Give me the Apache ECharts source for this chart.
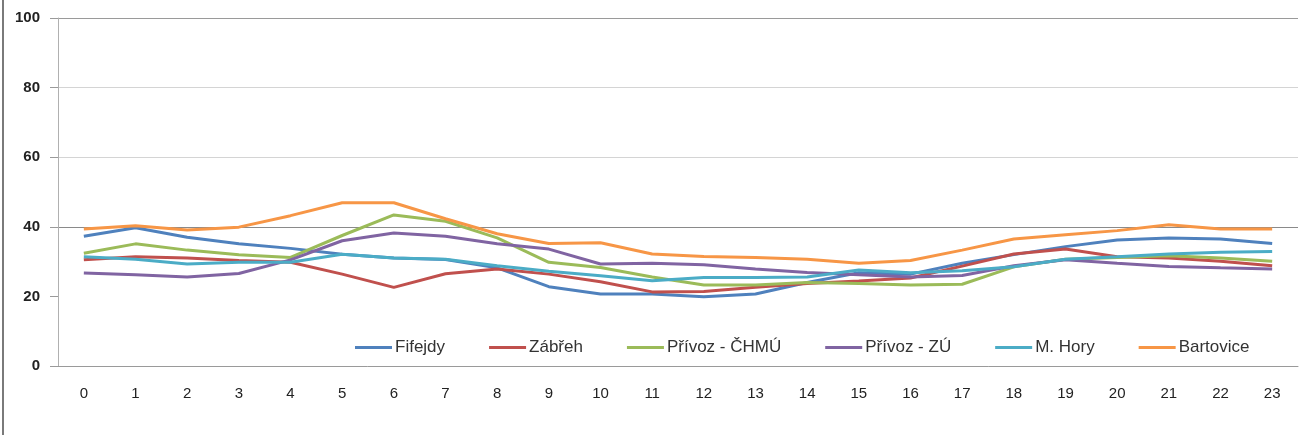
<!DOCTYPE html>
<html>
<head>
<meta charset="utf-8">
<script src="https://cdn.jsdelivr.net/npm/echarts@6/dist/echarts.min.js"></script>
<style>
  html, body { margin: 0; padding: 0; background: #ffffff; }
  #chart { width: 1301px; height: 435px; }
</style>
</head>
<body>
<div id="chart"></div>
<script>
// Hours of the day
const hours = ['0','1','2','3','4','5','6','7','8','9','10','11','12','13','14','15','16','17','18','19','20','21','22','23'];

// Hourly averages per monitoring station
const fifejdy   = [37.3, 39.7, 37.0, 35.1, 33.8, 32.1, 31.0, 30.6, 28.2, 22.8, 20.7, 20.7, 19.9, 20.7, 24.0, 26.8, 26.4, 29.5, 32.0, 34.3, 36.2, 36.8, 36.5, 35.2];
const zabreh    = [30.5, 31.4, 31.0, 30.3, 29.8, 26.4, 22.6, 26.5, 27.9, 26.4, 24.2, 21.3, 21.4, 22.6, 23.7, 24.4, 25.3, 28.7, 32.2, 33.6, 31.4, 31.0, 30.1, 28.8];
const privozChmu = [32.4, 35.1, 33.3, 32.0, 31.2, 37.5, 43.4, 41.6, 36.8, 29.8, 28.3, 25.6, 23.3, 23.3, 24.0, 23.7, 23.3, 23.5, 28.5, 30.7, 31.2, 31.7, 31.0, 30.1];
const privozZu  = [26.7, 26.2, 25.6, 26.6, 30.5, 36.0, 38.2, 37.3, 35.1, 33.6, 29.3, 29.5, 29.1, 27.9, 26.9, 26.2, 25.6, 26.0, 28.8, 30.5, 29.5, 28.6, 28.2, 27.9];
const mHory     = [31.4, 30.7, 29.3, 29.8, 29.8, 32.1, 31.0, 30.7, 28.8, 27.2, 25.9, 24.5, 25.4, 25.4, 25.6, 27.6, 26.8, 27.4, 28.5, 30.7, 31.4, 32.2, 32.7, 32.9];
const bartovice = [39.4, 40.3, 39.1, 39.9, 43.2, 46.9, 46.9, 42.3, 38.0, 35.2, 35.4, 32.2, 31.5, 31.2, 30.7, 29.5, 30.3, 33.3, 36.5, 37.7, 38.9, 40.6, 39.4, 39.4];

const stationNames = ['Fifejdy', 'Zábřeh', 'Přívoz - ČHMÚ', 'Přívoz - ZÚ', 'M. Hory', 'Bartovice'];
const stationData = [fifejdy, zabreh, privozChmu, privozZu, mHory, bartovice];
const stationColors = ['#4F81BD', '#C0504D', '#9BBB59', '#8064A2', '#4BACC6', '#F79646'];

const yTicks = { min: 0, max: 100, interval: 20 };

const font = 'Liberation Sans, Arial, sans-serif';

const chart = echarts.init(document.getElementById('chart'), null, { renderer: 'canvas' });

chart.setOption({
  backgroundColor: '#ffffff',
  animation: false,
  grid: { left: 58, right: 3, top: 18, bottom: 69 },
  legend: {
    data: stationNames,
    left: 355,
    top: 339,
    padding: 0,
    icon: 'rect',
    itemWidth: 37,
    itemHeight: 3,
    itemGap: 44,
    textStyle: { fontFamily: font, fontSize: 17, color: '#333333', padding: [0, 0, 0, -2] }
  },
  xAxis: {
    type: 'category',
    data: hours,
    boundaryGap: true,
    axisLine: { show: true, lineStyle: { color: '#9a9a9a', width: 1 } },
    axisTick: { show: false },
    axisLabel: { fontFamily: font, fontSize: 15, color: '#222222', margin: 20 },
    splitLine: { show: false }
  },
  yAxis: {
    type: 'value',
    min: yTicks.min,
    max: yTicks.max,
    interval: yTicks.interval,
    axisLine: { show: true, lineStyle: { color: '#b0b0b0', width: 1 } },
    axisTick: { show: true, length: 8, lineStyle: { color: '#9a9a9a' } },
    axisLabel: { fontFamily: font, fontSize: 15, fontWeight: 'bold', color: '#222222', margin: 18 },
    splitLine: {
      show: true,
      lineStyle: {
        color: ['rgba(0,0,0,0)', 'rgba(0,0,0,0)', '#8a8a8a', '#d4d4d4', '#d4d4d4', '#9a9a9a'],
        width: 1
      }
    }
  },
  graphic: [{
    type: 'rect',
    shape: { x: 2, y: 0, width: 2, height: 435 },
    style: { fill: '#7a7a7a' },
    silent: true
  }],
  series: stationNames.map((name, i) => ({
    name: name,
    type: 'line',
    data: stationData[i],
    symbol: 'none',
    showSymbol: false,
    smooth: false,
    color: stationColors[i],
    lineStyle: { width: 3, color: stationColors[i] }
  }))
});
</script>
</body>
</html>
